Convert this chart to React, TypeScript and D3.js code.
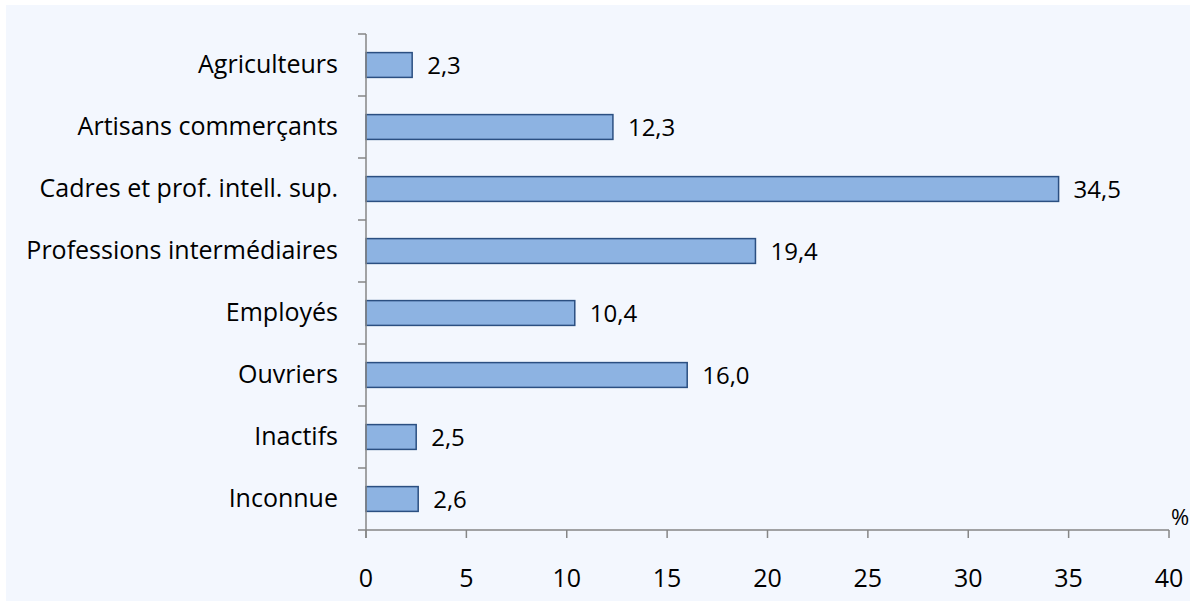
import React from 'react';
import * as d3 from 'd3';

const categories = [
  'Agriculteurs',
  'Artisans commerçants',
  'Cadres et prof. intell. sup.',
  'Professions intermédiaires',
  'Employés',
  'Ouvriers',
  'Inactifs',
  'Inconnue',
];
const values = [2.3, 12.3, 34.5, 19.4, 10.4, 16.0, 2.5, 2.6];
const xTicks = [0, 5, 10, 15, 20, 25, 30, 35, 40];

const W = 1196;
const H = 606;
const font = '"Open Sans", sans-serif';

const App: React.FC = () => {
  const left = 366;
  const right = 1169;
  const top = 34;
  const bottom = 530;

  const x = d3.scaleLinear().domain([0, 40]).range([left, right]);
  const y = d3.scaleBand().domain(categories).range([top, bottom]).paddingInner(0.6).paddingOuter(0.3);
  const band = d3.scaleBand().domain(categories).range([top, bottom]);
  const fmt = (v: number) => v.toFixed(1).replace('.', ',');

  return (
    <svg width={W} height={H} style={{ position: 'absolute', left: 0, top: 0 }}>
      <rect x={0} y={0} width={W} height={H} fill="#ffffff" />
      <rect x={6} y={5} width={W - 12} height={H - 10} fill="#F3F7FE" />

      {/* bars */}
      {categories.map((c, i) => (
        <g key={c}>
          <rect
            x={x(0)}
            y={y(c)!}
            width={x(values[i]) - x(0)}
            height={y.bandwidth()}
            fill="#8DB3E2"
            stroke="#2B4F81"
            strokeWidth={1.5}
          />
          <text
            x={x(values[i]) + 15}
            y={y(c)! + y.bandwidth() / 2}
            dy="0.38em"
            fontFamily={font}
            fontSize={24}
            fill="#000"
          >
            {fmt(values[i])}
          </text>
          <text
            x={338}
            y={band(c)! + band.bandwidth() / 2}
            dy="0.32em"
            textAnchor="end"
            fontFamily={font}
            fontSize={25}
            fill="#000"
          >
            {c}
          </text>
        </g>
      ))}

      {/* y axis */}
      <line x1={left} x2={left} y1={top} y2={bottom + 8} stroke="#868686" strokeWidth={1.5} />
      {[...categories.map(c => band(c)!), bottom].map((t, i) => (
        <line key={i} x1={left - 8} x2={left} y1={t} y2={t} stroke="#868686" strokeWidth={1.5} />
      ))}

      {/* x axis */}
      <line x1={left} x2={right} y1={bottom} y2={bottom} stroke="#868686" strokeWidth={1.5} />
      {xTicks.map(t => (
        <g key={t}>
          <line x1={x(t)} x2={x(t)} y1={bottom} y2={bottom + 8} stroke="#868686" strokeWidth={1.5} />
          <text x={x(t)} y={587} textAnchor="middle" fontFamily={font} fontSize={25} fill="#000">
            {t}
          </text>
        </g>
      ))}
      <text x={1180} y={525} textAnchor="middle" fontFamily={font} fontSize={22} fill="#000">
        %
      </text>
    </svg>
  );
};

export default App;
